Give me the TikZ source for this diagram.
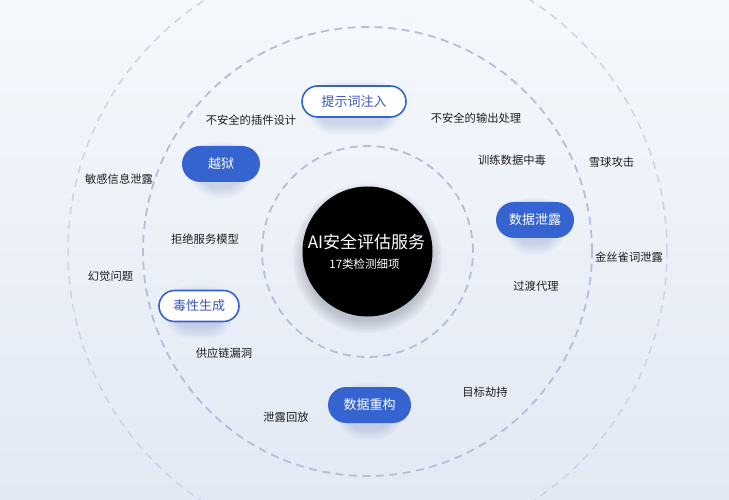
\documentclass[tikz,border=0pt]{standalone}
\usepackage{fontspec}
\setmainfont{Noto Sans CJK SC}
\usetikzlibrary{shapes.misc}
\definecolor{bgtop}{HTML}{F5F8FC}
\definecolor{bgbot}{HTML}{E2E9F4}
\definecolor{pillblue}{HTML}{3564D0}
\definecolor{pilltext}{HTML}{3A55C4}
\definecolor{ringdash}{HTML}{B5BEDB}
\definecolor{ringouter}{HTML}{CCD4E6}
\definecolor{shadowblue}{HTML}{4A64B0}
\definecolor{shadowgray}{HTML}{40475A}
\pgfdeclarelayer{bglayer}
\pgfdeclarelayer{shadowlayer}
\pgfsetlayers{bglayer,shadowlayer,main}
\tikzset{
  ring/.style={circle, draw=ringdash, line width=1.8pt, dash pattern=on 8pt off 5.5pt, inner sep=0pt, fill=none},
  outerring/.style={circle, draw=ringouter, line width=1.5pt, dash pattern=on 8pt off 6pt, inner sep=0pt, fill=none},
  corecircle/.style={circle, fill=black, inner sep=0pt, minimum size=130},
  pillbase/.style={rounded rectangle, inner sep=0pt, font=\fontsize{13}{13}\selectfont},
  pillsolid/.style={pillbase, fill=pillblue, text=white, minimum height=36},
  pillline/.style={pillbase, fill=white, draw=pillblue, line width=1.6pt, text=pilltext, minimum height=31},
  risk/.style={inner sep=0pt, font=\fontsize{11.3}{11.3}\selectfont, text=black!88},
  shadowlayerfill/.style={fill=shadowblue, opacity=0.028},
}
% soft shadow under a pill node: #1 node name, #2 half height
\newcommand{\softpillshadow}[2]{%
  \begin{pgfonlayer}{shadowlayer}
  \foreach \e in {0,1.5,...,10.5} {
    \pgfmathsetmacro{\rr}{#2+\e}
    \fill[shadowlayerfill, rounded corners=\rr pt]
      ([xshift=-\e pt, yshift=-\e pt-6pt]#1.south west) rectangle ([xshift=\e pt, yshift=\e pt-6pt]#1.north east);
  }
  \end{pgfonlayer}}
\begin{document}
\begin{tikzpicture}[x=1pt,y=-1pt]
\useasboundingbox (0,0) rectangle (729,500);
\clip (0,0) rectangle (729,500);
\begin{pgfonlayer}{bglayer}
\fill[top color=bgtop, bottom color=bgbot] (0,0) rectangle (729,500);
\end{pgfonlayer}
% rings
\node[outerring, minimum size=599] (ring3) at (367.5,251.5) {};
\node[ring, minimum size=449] (ring2) at (367.5,251.5) {};
\node[ring, minimum size=211] (ring1) at (367.5,251.5) {};
% core
\node[corecircle] (core) at (367.5,251.5) {};
\begin{pgfonlayer}{shadowlayer}
\foreach \e in {0,1.5,...,12} {
  \fill[fill=shadowgray, opacity=0.03] ([yshift=-7pt]core.center) circle[radius=63pt+\e pt];
}
\end{pgfonlayer}
\node[text=white, inner sep=0pt, font=\fontsize{17}{17}\selectfont] (title) at (366.5,242) {AI安全评估服务};
\node[text=white, inner sep=0pt, font=\fontsize{11.5}{11.5}\selectfont] (subtitle) at (364.5,264) {17类检测细项};
% pills
\node[pillline, minimum width=104] (prompt) at (354,101.5) {提示词注入};
\node[pillsolid, minimum width=78] (jail) at (221,164) {越狱};
\node[pillsolid, minimum width=78] (leak) at (535,220) {数据泄露};
\node[pillline, minimum width=80] (toxic) at (199,306) {毒性生成};
\node[pillsolid, minimum width=83] (recon) at (369.5,405) {数据重构};
\softpillshadow{prompt}{15.5}
\softpillshadow{jail}{18}
\softpillshadow{leak}{18}
\softpillshadow{toxic}{15.5}
\softpillshadow{recon}{18}
% risk labels
\node[risk] (plugin) at (251,120) {不安全的插件设计};
\node[risk] (output) at (476,118) {不安全的输出处理};
\node[risk] (poison) at (512,160) {训练数据中毒};
\node[risk] (dos) at (205,239) {拒绝服务模型};
\node[risk] (snow) at (611.5,162) {雪球攻击};
\node[risk] (canary) at (629,257) {金丝雀词泄露};
\node[risk] (proxy) at (536,286) {过渡代理};
\node[risk] (hijack) at (485,392) {目标劫持};
\node[risk] (sens) at (119,179) {敏感信息泄露};
\node[risk] (halluc) at (110.5,276) {幻觉问题};
\node[risk] (supply) at (224,353) {供应链漏洞};
\node[risk] (replay) at (286,417) {泄露回放};
\end{tikzpicture}
\end{document}
